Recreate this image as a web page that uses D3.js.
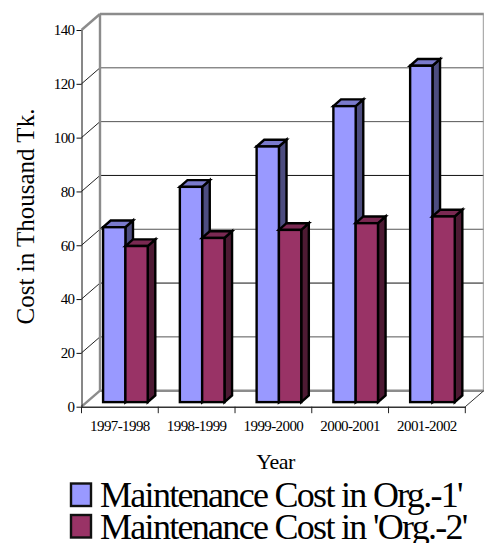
<!DOCTYPE html>
<html>
<head>
<meta charset="utf-8">
<style>
  html, body { margin: 0; padding: 0; background: #fff; }
  svg { display: block; }
  text { font-family: "Liberation Serif", serif; fill: #000; }
</style>
<script src="https://cdnjs.cloudflare.com/ajax/libs/d3/7.8.5/d3.min.js"></script>
</head>
<body>
<svg id="chart" width="484" height="543"></svg>
<script>
// Yearly maintenance cost, in thousand Tk.
const years = ["1997-1998", "1998-1999", "1999-2000", "2000-2001", "2001-2002"];
const seriesNames = ["Maintenance Cost in Org.-1'", "Maintenance Cost in 'Org.-2'"];
const org1Values = [65, 80, 95, 110, 125];
const org2Values = [58, 61, 64, 66.5, 69];
const yTicks = [0, 20, 40, 60, 80, 100, 120, 140];

const seriesFill = ["#9999ff", "#993366"];
const seriesSide = ["#4d4d80", "#4d1a33"];
const seriesTop = ["#7a7acc", "#7a2952"];

// Oblique projection: how far the back wall and the bars sit behind the front plane.
const wallDx = 18.5, wallDy = -16;
const barLift = -4.6, barDepthX = 7.6, barDepthY = -6.7;

const svg = d3.select("#chart");

const x = d3.scaleBand().domain(years).range([81.5, 465.3]);
const y = d3.scaleLinear().domain([0, 140]).range([406.7, 30]);
const inner = d3.scaleBand().domain([0, 1]).range([21.6, 66.2]);

// Back wall and floor
const wall = svg.append("g").attr("fill", "none");
const [xMin, xMax] = x.range();

wall.selectAll("line.grid")
  .data(yTicks.filter(t => t > 0 && t < 140))
  .join("line")
  .attr("x1", xMin + wallDx).attr("x2", xMax + wallDx)
  .attr("y1", d => y(d) + wallDy).attr("y2", d => y(d) + wallDy)
  .attr("stroke", d => d === 80 || d === 40 ? "#111" : "#555")
  .attr("stroke-width", 1);

wall.selectAll("line.diag")
  .data(yTicks.filter(t => t > 0 && t < 140))
  .join("line")
  .attr("x1", xMin).attr("x2", xMin + wallDx)
  .attr("y1", d => y(d)).attr("y2", d => y(d) + wallDy)
  .attr("stroke", "#222").attr("stroke-width", 1);

const thickGray = "#8c8c8c";
[
  [xMin, y(140), xMin + wallDx, y(140) + wallDy],
  [xMin + wallDx, y(140) + wallDy, xMax + wallDx, y(140) + wallDy],
  [xMin + wallDx, y(140) + wallDy, xMin + wallDx, y(0) + wallDy],
  [xMin, y(0), xMin + wallDx, y(0) + wallDy],
  [xMin + wallDx, y(0) + wallDy, xMax + wallDx, y(0) + wallDy]
].forEach(([x1, y1, x2, y2]) => {
  wall.append("line").attr("x1", x1).attr("y1", y1).attr("x2", x2).attr("y2", y2)
    .attr("stroke", thickGray).attr("stroke-width", 2.4);
});

wall.append("line")
  .attr("x1", xMax + wallDx - 0.5).attr("x2", xMax + wallDx - 0.5)
  .attr("y1", y(140) + wallDy).attr("y2", y(0) + wallDy)
  .attr("stroke", "#999").attr("stroke-width", 1);
wall.append("line")
  .attr("x1", xMax).attr("y1", y(0))
  .attr("x2", xMax + wallDx).attr("y2", y(0) + wallDy)
  .attr("stroke", "#333").attr("stroke-width", 1);

// Bars, one cuboid per year and series
const rows = years.flatMap((year, i) => [
  { year, s: 0, value: org1Values[i] },
  { year, s: 1, value: org2Values[i] }
]);

const bars = svg.append("g")
  .attr("stroke", "#000").attr("stroke-width", 2.4).attr("stroke-linejoin", "miter");

const barGroups = bars.selectAll("g").data(rows).join("g");
const geom = d => {
  const l = x(d.year) + inner(d.s), r = l + inner.bandwidth();
  const t = y(d.value) + barLift, b = y(0) + barLift;
  return { l, r, t, b };
};

barGroups.append("path")
  .attr("fill", d => seriesSide[d.s])
  .attr("d", d => {
    const { r, t, b } = geom(d);
    return d3.line()([[r, t], [r + barDepthX, t + barDepthY], [r + barDepthX, b + barDepthY], [r, b]]) + "Z";
  });
barGroups.append("path")
  .attr("fill", d => seriesTop[d.s])
  .attr("d", d => {
    const { l, r, t } = geom(d);
    return d3.line()([[l, t], [l + barDepthX, t + barDepthY], [r + barDepthX, t + barDepthY], [r, t]]) + "Z";
  });
barGroups.append("rect")
  .attr("fill", d => seriesFill[d.s])
  .attr("x", d => geom(d).l)
  .attr("y", d => geom(d).t)
  .attr("width", inner.bandwidth())
  .attr("height", d => geom(d).b - geom(d).t);

// Front axes
const yAxis = svg.append("g")
  .attr("transform", `translate(${xMin},0)`)
  .call(d3.axisLeft(y).tickValues(yTicks).tickSize(5).tickPadding(2).tickSizeOuter(0));
yAxis.selectAll("text").attr("font-size", 15).attr("letter-spacing", -0.6);
yAxis.selectAll("line, path").attr("stroke", "#111");

const xAxis = svg.append("g")
  .attr("transform", `translate(0,${y(0)})`)
  .call(d3.axisBottom(x).tickSize(0).tickPadding(14));
xAxis.selectAll("text").attr("font-size", 15).attr("letter-spacing", -0.6);
xAxis.select("path").attr("stroke", "#333").attr("stroke-width", 1.4);

svg.append("g").selectAll("line")
  .data(d3.range(years.length + 1))
  .join("line")
  .attr("x1", i => xMin + i * x.step()).attr("x2", i => xMin + i * x.step())
  .attr("y1", y(0)).attr("y2", y(0) + 6.5)
  .attr("stroke", "#222");

// Axis titles
svg.append("text")
  .attr("transform", "translate(34,216.5) rotate(-90)")
  .attr("text-anchor", "middle")
  .attr("font-size", 25)
  .text("Cost in Thousand Tk.");

svg.append("text")
  .attr("x", 275.5).attr("y", 469)
  .attr("text-anchor", "middle")
  .attr("font-size", 22)
  .attr("letter-spacing", -0.5)
  .text("Year");

// Legend
const legendRows = svg.append("g").selectAll("g")
  .data(seriesNames)
  .join("g")
  .attr("transform", (d, i) => `translate(0,${i * 31.5})`);

legendRows.append("rect")
  .attr("x", 71).attr("y", 483.5)
  .attr("width", 20).attr("height", 22.5)
  .attr("fill", (d, i) => seriesFill[i])
  .attr("stroke", "#111").attr("stroke-width", 2.4);

legendRows.append("text")
  .attr("x", 100).attr("y", 507)
  .attr("font-size", 36)
  .attr("letter-spacing", -1.7)
  .text(d => d);
</script>
</body>
</html>
